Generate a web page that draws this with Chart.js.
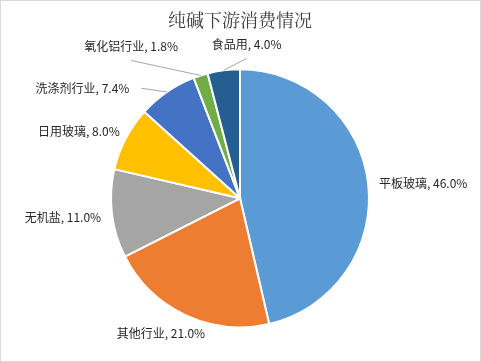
<!DOCTYPE html>
<html lang="zh-CN">
<head>
    <meta charset="UTF-8">
    <title>纯碱下游消费情况</title>
    <script src="https://cdn.jsdelivr.net/npm/chart.js"></script>
    <style>
        body {
            margin: 0;
            background: #fff;
        }
    </style>
</head>
<body>
    <canvas id="sodaChart" width="481" height="362"></canvas>

    <script>
        // Data
        const categories = ['平板玻璃', '其他行业', '无机盐', '日用玻璃', '洗涤剂行业', '氧化铝行业', '食品用'];
        const shares = [46.0, 21.0, 11.0, 8.0, 7.4, 1.8, 4.0];
        const sliceColors = ['#5B9BD5', '#ED7D31', '#A5A5A5', '#FFC000', '#4472C4', '#70AD47', '#255E91'];

        // where each label sits, relative to the slice edge at its mid angle
        const labelLayout = [
            { dx: 55, dy: 0 },
            { dx: -24.5, dy: 18 },
            { dx: -49, dy: 3.5 },
            { dx: -46.7, dy: -7.3 },
            { dx: -84.5, dy: -3.7, leader: 'side' },
            { dx: -69.5, dy: -29, leader: 'bottom' },
            { dx: 23, dy: -26, leader: 'bottom' }
        ];

        const labelFont = '12px "Noto Sans CJK SC", "Noto Sans", sans-serif';

        const outsideLabels = {
            id: 'outsideLabels',
            afterDatasetsDraw(chart) {
                const ctx = chart.ctx;
                const arcs = chart.getDatasetMeta(0).data;
                ctx.save();
                ctx.font = labelFont;
                ctx.textAlign = 'center';
                ctx.textBaseline = 'middle';
                arcs.forEach((arc, i) => {
                    const p = arc.getProps(['x', 'y', 'startAngle', 'endAngle', 'outerRadius'], true);
                    const mid = (p.startAngle + p.endAngle) / 2;
                    const ex = p.x + Math.cos(mid) * p.outerRadius;
                    const ey = p.y + Math.sin(mid) * p.outerRadius;
                    const lay = labelLayout[i];
                    const cx = ex + lay.dx;
                    const cy = ey + lay.dy;
                    const text = categories[i] + ', ' + shares[i].toFixed(1) + '%';
                    const w = ctx.measureText(text).width;

                    if (lay.leader) {
                        let lx = cx, ly = cy + 14;
                        if (lay.leader === 'side') {
                            lx = cx + w / 2 + 12;
                            ly = cy;
                        }
                        ctx.strokeStyle = '#A6A6A6';
                        ctx.lineWidth = 1;
                        ctx.beginPath();
                        ctx.moveTo(ex, ey);
                        ctx.lineTo(lx, ly);
                        ctx.stroke();
                    }

                    ctx.fillStyle = '#262626';
                    ctx.fillText(text, cx, cy);
                });
                ctx.restore();
            },
            afterDraw(chart) {
                // thin frame round the picture
                const ctx = chart.ctx;
                ctx.save();
                ctx.strokeStyle = '#D9D9D9';
                ctx.lineWidth = 1;
                ctx.strokeRect(0.5, 0.5, chart.width - 1, chart.height - 1);
                ctx.restore();
            }
        };

        const ctx = document.getElementById('sodaChart').getContext('2d');
        const sodaChart = new Chart(ctx, {
            type: 'pie',
            data: {
                labels: categories,
                datasets: [{
                    data: shares,
                    backgroundColor: sliceColors,
                    borderColor: '#FFFFFF',
                    borderWidth: 2,
                    radius: 129
                }]
            },
            options: {
                responsive: false,
                animation: false,
                layout: {
                    padding: { left: 0, right: 1, top: 0, bottom: 0 }
                },
                plugins: {
                    legend: { display: false },
                    tooltip: { enabled: false },
                    title: {
                        display: true,
                        text: '纯碱下游消费情况',
                        color: '#404040',
                        font: {
                            family: '"Noto Serif CJK SC", "Noto Sans CJK SC", serif',
                            size: 18,
                            weight: 'normal',
                            lineHeight: 1.2
                        },
                        padding: { top: 9, bottom: 4 }
                    }
                }
            },
            plugins: [outsideLabels]
        });
    </script>
</body>
</html>
